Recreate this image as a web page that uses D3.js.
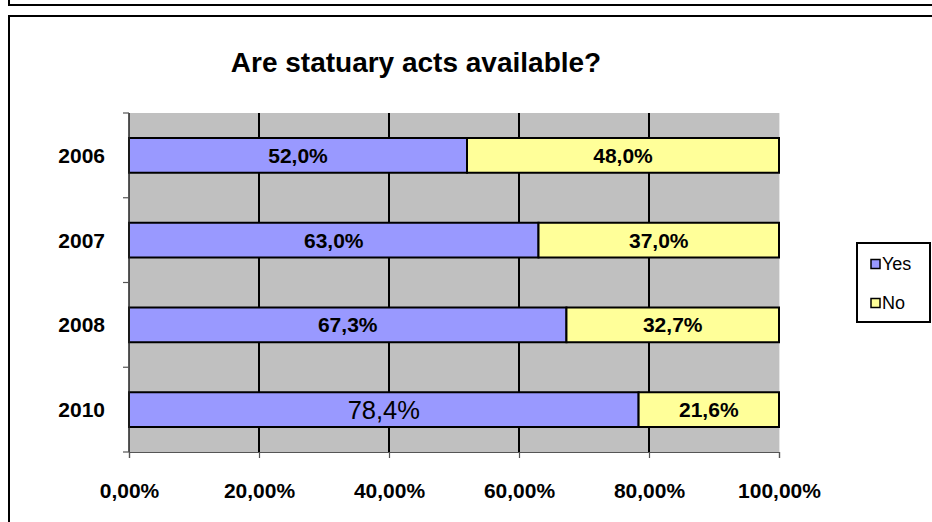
<!DOCTYPE html>
<html>
<head>
<meta charset="utf-8">
<script src="https://cdn.jsdelivr.net/npm/d3@7"></script>
<style>
html,body{margin:0;padding:0;background:#fff;overflow:hidden;}
svg{display:block;font-family:Arial,"Liberation Sans",sans-serif;}
</style>
</head>
<body>
<svg id="chart" width="932" height="522"></svg>
<script>
const title = "Are statuary acts available?";
const categories = ["2006", "2007", "2008", "2010"];
const seriesNames = ["Yes", "No"];
const yesValues = [52.0, 63.0, 67.3, 78.4];
const noValues = [48.0, 37.0, 32.7, 21.6];
const yesLabels = ["52,0%", "63,0%", "67,3%", "78,4%"];
const noLabels = ["48,0%", "37,0%", "32,7%", "21,6%"];
const xTicks = [0, 20, 40, 60, 80, 100];
const xTickLabels = ["0,00%", "20,00%", "40,00%", "60,00%", "80,00%", "100,00%"];
const colors = {Yes: "#9999FF", No: "#FFFF99"};

const svg = d3.select("#chart");

// outer frames
svg.append("rect").attr("x", 9).attr("y", -20).attr("width", 940).attr("height", 25)
  .attr("fill", "none").attr("stroke", "#000").attr("stroke-width", 2);
svg.append("rect").attr("x", 9).attr("y", 16).attr("width", 940).attr("height", 530)
  .attr("fill", "#fff").attr("stroke", "#000").attr("stroke-width", 2);

const plot = {x0: 129, x1: 779, y0: 113, y1: 452};

const x = d3.scaleLinear().domain([0, 100]).range([plot.x0, plot.x1]);
const y = d3.scaleBand().domain(categories).range([plot.y0, plot.y1])
  .paddingInner(0.59).paddingOuter(0.295);

// title
svg.append("text").attr("x", 416).attr("y", 72).attr("text-anchor", "middle")
  .attr("font-size", 28).attr("font-weight", "bold").text(title);

// plot background
svg.append("rect").attr("x", plot.x0).attr("y", plot.y0)
  .attr("width", plot.x1 - plot.x0).attr("height", plot.y1 - plot.y0)
  .attr("fill", "#C0C0C0");
svg.append("line").attr("x1", plot.x1 + 0.5).attr("x2", plot.x1 + 0.5)
  .attr("y1", plot.y0).attr("y2", plot.y1).attr("stroke", "#e6e6e6").attr("stroke-width", 1);

// gridlines
svg.append("g").selectAll("line").data(xTicks.filter(d => d > 0 && d < 100)).join("line")
  .attr("x1", d => x(d)).attr("x2", d => x(d))
  .attr("y1", plot.y0).attr("y2", plot.y1)
  .attr("stroke", "#000").attr("stroke-width", 2);

// bars
const rows = categories.map((c, i) => ({cat: c, yes: yesValues[i], no: noValues[i], yl: yesLabels[i], nl: noLabels[i], i}));
const g = svg.append("g");
rows.forEach(r => {
  g.append("rect").attr("x", x(0)).attr("y", y(r.cat))
    .attr("width", x(r.yes) - x(0)).attr("height", y.bandwidth())
    .attr("fill", colors.Yes).attr("stroke", "#000").attr("stroke-width", 2);
  g.append("rect").attr("x", x(r.yes)).attr("y", y(r.cat))
    .attr("width", x(r.yes + r.no) - x(r.yes)).attr("height", y.bandwidth())
    .attr("fill", colors.No).attr("stroke", "#000").attr("stroke-width", 2);
  const cy = y(r.cat) + y.bandwidth() / 2;
  const special = r.cat === "2010";
  g.append("text").attr("x", (x(0) + x(r.yes)) / 2).attr("y", cy)
    .attr("dy", "0.36em").attr("text-anchor", "middle")
    .attr("font-size", special ? 25.5 : 21).attr("font-weight", special ? "normal" : "bold")
    .text(r.yl);
  g.append("text").attr("x", (x(r.yes) + x(r.yes + r.no)) / 2).attr("y", cy)
    .attr("dy", "0.36em").attr("text-anchor", "middle")
    .attr("font-size", 21).attr("font-weight", "bold")
    .text(r.nl);
});

// y axis
const yBounds = d3.range(categories.length + 1).map(i => plot.y0 + i * (plot.y1 - plot.y0) / categories.length);
svg.append("line").attr("x1", plot.x0).attr("x2", plot.x0).attr("y1", plot.y0).attr("y2", plot.y1)
  .attr("stroke", "#222").attr("stroke-width", 1.5);
svg.append("g").selectAll("line").data(yBounds).join("line")
  .attr("x1", plot.x0 - 6).attr("x2", plot.x0).attr("y1", d => d).attr("y2", d => d)
  .attr("stroke", "#555").attr("stroke-width", 1.2);
svg.append("g").selectAll("text").data(categories).join("text")
  .attr("x", 105).attr("y", d => y(d) + y.bandwidth() / 2).attr("dy", "0.36em")
  .attr("text-anchor", "end").attr("font-size", 21).attr("font-weight", "bold")
  .text(d => d);

// x axis
const xAxis = d3.axisBottom(x).tickValues(xTicks).tickSize(6)
  .tickFormat((d, i) => xTickLabels[i]);
const xg = svg.append("g").attr("transform", `translate(0,${plot.y1})`).call(xAxis);
xg.select(".domain").attr("stroke", "#555").attr("stroke-width", 1.2);
xg.selectAll(".tick line").attr("stroke", "#555").attr("stroke-width", 1.2);
xg.selectAll(".tick text").attr("font-size", 21).attr("font-weight", "bold")
  .attr("font-family", "Arial, 'Liberation Sans', sans-serif").attr("fill", "#000")
  .attr("y", 38).attr("dy", "0.36em");

// legend
const lg = svg.append("g");
lg.append("rect").attr("x", 857).attr("y", 243).attr("width", 73).attr("height", 79)
  .attr("fill", "#fff").attr("stroke", "#000").attr("stroke-width", 2);
seriesNames.forEach((s, i) => {
  const yy = 264 + i * 39;
  lg.append("rect").attr("x", 871).attr("y", yy - 4.5).attr("width", 9).attr("height", 9)
    .attr("fill", colors[s]).attr("stroke", "#000").attr("stroke-width", 1.5);
  lg.append("text").attr("x", 882).attr("y", yy).attr("dy", "0.36em")
    .attr("font-size", 18).text(s);
});
</script>
</body>
</html>
